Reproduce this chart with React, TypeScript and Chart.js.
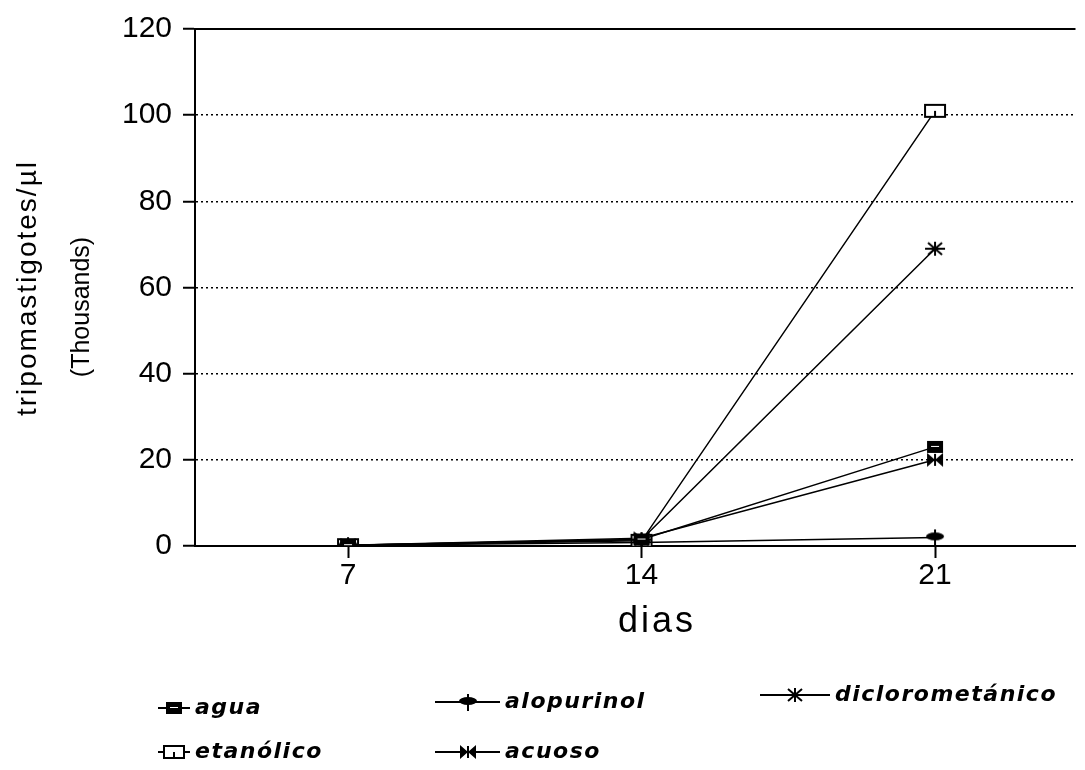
import React, { useEffect, useRef } from 'react';
import { Chart, registerables } from 'chart.js';

Chart.register(...registerables);

const days = [7, 14, 21];
const seriesNames = ['agua', 'alopurinol', 'diclorometánico', 'etanólico', 'acuoso'];
const agua = [0.2, 1.5, 23];
const alopurinol = [0.2, 0.8, 2];
const diclorometanico = [0.2, 1.5, 69];
const etanolico = [0.2, 1.2, 101];
const acuoso = [0.2, 1.8, 20];
const yTickValues = [0, 20, 40, 60, 80, 100, 120];
const yTitleLines = ['tripomastigotes/µl', '(Thousands)'];
const xTitle = 'dias';

function mk(w: number, h: number, draw: (c: CanvasRenderingContext2D) => void) {
  const c = document.createElement('canvas');
  c.width = w;
  c.height = h;
  const ctx = c.getContext('2d')!;
  ctx.fillStyle = '#000';
  ctx.strokeStyle = '#000';
  draw(ctx);
  return c;
}

function makeMarkers() {
  const aguaM = mk(18, 14, (c) => {
    c.fillRect(1, 1, 16, 12);
    c.fillStyle = '#fff';
    c.fillRect(5, 6, 8, 1);
  });
  const aloM = mk(20, 20, (c) => {
    c.beginPath();
    c.ellipse(10, 9, 9, 4, 0, 0, Math.PI * 2);
    c.fill();
    c.lineWidth = 2;
    c.beginPath();
    c.moveTo(10, 2);
    c.lineTo(10, 19);
    c.stroke();
  });
  const dicM = mk(22, 16, (c) => {
    c.lineWidth = 2;
    c.beginPath();
    c.moveTo(1, 8); c.lineTo(21, 8);
    c.moveTo(11, 1); c.lineTo(11, 15);
    c.moveTo(4, 2); c.lineTo(18, 14);
    c.moveTo(18, 2); c.lineTo(4, 14);
    c.stroke();
  });
  const etaM = mk(24, 16, (c) => {
    c.fillStyle = '#fff';
    c.fillRect(2, 2, 20, 12);
    c.lineWidth = 2;
    c.strokeRect(2, 2, 20, 12);
    c.beginPath();
    c.moveTo(12, 8); c.lineTo(12, 14);
    c.stroke();
  });
  const acuM = mk(18, 16, (c) => {
    c.beginPath();
    c.moveTo(1, 1); c.lineTo(1, 15); c.lineTo(9, 8); c.closePath();
    c.moveTo(17, 1); c.lineTo(17, 15); c.lineTo(9, 8); c.closePath();
    c.fill();
    c.lineWidth = 2;
    c.beginPath();
    c.moveTo(9, 2); c.lineTo(9, 14);
    c.stroke();
  });
  return [aguaM, aloM, dicM, etaM, acuM];
}

export default function App() {
  const ref = useRef<HTMLCanvasElement>(null);

  useEffect(() => {
    const markers = makeMarkers();
    const values = [agua, alopurinol, diclorometanico, etanolico, acuoso];

    const legendPos = [
      { x: 158, y: 708 },
      { x: 435, y: 702 },
      { x: 760, y: 695 },
      { x: 158, y: 752 },
      { x: 435, y: 752 },
    ];
    const sampleLen = [32, 65, 70, 32, 65];

    const decor = {
      id: 'decor',
      afterDraw(chart: any) {
        const ctx = chart.ctx as CanvasRenderingContext2D;
        const a = chart.chartArea;
        ctx.save();
        ctx.strokeStyle = '#000';
        ctx.lineWidth = 2;
        ctx.beginPath();
        ctx.moveTo(a.left, a.top);
        ctx.lineTo(a.right, a.top);
        ctx.stroke();

        ctx.fillStyle = '#000';
        ctx.textAlign = 'center';
        ctx.textBaseline = 'middle';
        ctx.save();
        ctx.translate(28, 288);
        ctx.rotate(-Math.PI / 2);
        (ctx as any).letterSpacing = '2px';
        ctx.font = '28px "Liberation Sans", Arial, sans-serif';
        ctx.fillText(yTitleLines[0], 0, 0);
        ctx.restore();
        ctx.save();
        ctx.translate(82, 307);
        ctx.rotate(-Math.PI / 2);
        (ctx as any).letterSpacing = '0px';
        ctx.font = '25px "Liberation Sans", Arial, sans-serif';
        ctx.fillText(yTitleLines[1], 0, 0);
        ctx.restore();

        ctx.save();
        (ctx as any).letterSpacing = '3px';
        ctx.font = '36px "Liberation Sans", Arial, sans-serif';
        ctx.fillText(xTitle, 657, 622);
        ctx.restore();

        ctx.textAlign = 'left';
        for (let i = 0; i < seriesNames.length; i++) {
          const p = legendPos[i];
          const len = sampleLen[i];
          ctx.lineWidth = 2;
          ctx.beginPath();
          ctx.moveTo(p.x, p.y);
          ctx.lineTo(p.x + len, p.y);
          ctx.stroke();
          const m = markers[i];
          const cx = p.x + len / 2;
          ctx.drawImage(m, Math.round(cx - m.width / 2), Math.round(p.y - m.height / 2));
          ctx.save();
          (ctx as any).letterSpacing = '1.5px';
          ctx.font = 'italic bold 22px "DejaVu Sans", sans-serif';
          ctx.fillText(seriesNames[i], p.x + len + 5, p.y);
          ctx.restore();
        }
        ctx.restore();
      },
    };

    const chart = new Chart(ref.current!, {
      type: 'line',
      data: {
        datasets: seriesNames.map((name, i) => ({
          label: name,
          data: days.map((d, j) => ({ x: d, y: values[i][j] })),
          borderColor: '#000',
          backgroundColor: '#000',
          borderWidth: 1.5,
          pointStyle: markers[i] as any,
          pointRadius: 8,
          fill: false,
          tension: 0,
        })),
      },
      options: {
        responsive: false,
        animation: false,
        layout: { padding: { top: 22, left: 0, right: 0, bottom: 0 } },
        plugins: { legend: { display: false }, tooltip: { enabled: false } },
        scales: {
          x: {
            type: 'linear',
            min: 3.35,
            max: 24.35,
            afterBuildTicks: (s: any) => {
              s.ticks = days.map((v) => ({ value: v }));
            },
            afterFit: (s: any) => {
              s.height = 224;
            },
            grid: {
              drawOnChartArea: false,
              drawTicks: true,
              tickLength: 12,
              tickWidth: 2,
              tickColor: '#000',
              color: '#000',
            },
            border: { display: true, color: '#000', width: 2 },
            ticks: {
              color: '#000',
              padding: 0,
              maxRotation: 0,
              autoSkip: false,
              font: { size: 30, family: '"Liberation Sans", Arial, sans-serif' },
            },
          },
          y: {
            type: 'linear',
            min: 0,
            max: 120,
            afterBuildTicks: (s: any) => {
              s.ticks = yTickValues.map((v) => ({ value: v }));
            },
            afterFit: (s: any) => {
              s.width = 195;
            },
            grid: {
              drawOnChartArea: true,
              drawTicks: true,
              tickLength: 12,
              tickWidth: 2,
              tickColor: '#000',
              tickBorderDash: [],
              color: (ctx: any) => (ctx.tick && (ctx.tick.value === 0 || ctx.tick.value === 120) ? 'rgba(0,0,0,0)' : '#000'),
              lineWidth: 1.5,
            },
            border: { display: true, color: '#000', width: 2, dash: [2, 3] },
            ticks: {
              color: '#000',
              padding: 11,
              font: { size: 30, family: '"Liberation Sans", Arial, sans-serif' },
            },
          },
        },
      },
      plugins: [decor],
    });
    return () => chart.destroy();
  }, []);

  return (
    <div style={{ position: 'absolute', left: 0, top: 0, width: 1085, height: 770, background: '#fff' }}>
      <canvas ref={ref} width={1085} height={770} />
    </div>
  );
}
